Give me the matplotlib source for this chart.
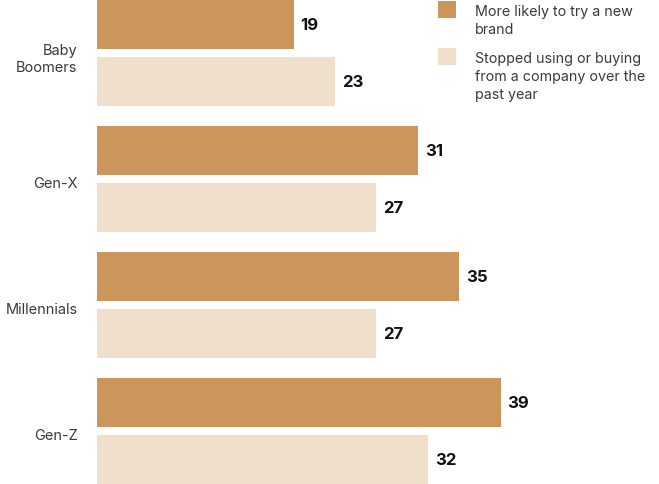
import matplotlib

matplotlib.use("Agg")
import matplotlib.pyplot as plt
import numpy as np
from matplotlib.patches import Rectangle

# data
categories = ["Baby\nBoomers", "Gen-X", "Millennials", "Gen-Z"]
try_new_brand = [19, 31, 35, 39]
stopped_using = [23, 27, 27, 32]
series_labels = [
    "More likely to try a new\nbrand",
    "Stopped using or buying\nfrom a company over the\npast year",
]

DARK = "#CC955B"
LIGHT = "#F0E0CB"
TEXT = "#3A3A3A"

plt.rcParams["font.family"] = ["Inter", "DejaVu Sans"]

W, H = 659, 485
fig = plt.figure(figsize=(W / 100, H / 100), dpi=100)
fig.patch.set_facecolor("white")

# axes spans from the bar baseline to the right edge
left_px = 97
ax = fig.add_axes([left_px / W, 0, (W - left_px) / W, 1])
px_per_unit = 10.35
ax.set_xlim(0, (W - left_px) / px_per_unit)

pitch = 126.0
center0 = 54.0 / pitch
ax.set_ylim(-center0 + H / pitch, -center0)

y = np.arange(len(categories))
offset = 0.226
height = 0.395
b1 = ax.barh(y - offset, try_new_brand, height=height, color=DARK)
b2 = ax.barh(y + offset, stopped_using, height=height, color=LIGHT)

for bars in (b1, b2):
    labels = ax.bar_label(bars, padding=5, fontsize=12, fontweight="bold", color="#111111")
    for t in labels:
        t.set_y(t.get_position()[1] + 0.012)

ax.set_yticks(y + 0.02)
ax.set_yticklabels(categories, fontsize=10.5, color=TEXT, linespacing=1.3)
ax.tick_params(axis="y", length=0, pad=14)
ax.set_xticks([])
for s in ax.spines.values():
    s.set_visible(False)

# legend drawn at fixed pixel positions, top right
legend_rows = [(2, DARK, series_labels[0]), (49, LIGHT, series_labels[1])]
for top, color, label in legend_rows:
    fig.add_artist(
        Rectangle(
            (438 / W, 1 - (top + 17) / H),
            18 / W,
            17 / H,
            transform=fig.transFigure,
            facecolor=color,
            edgecolor="none",
        )
    )
    fig.text(
        475 / W,
        1 - (top + 3) / H,
        label,
        fontsize=10.3,
        color=TEXT,
        va="top",
        ha="left",
        linespacing=1.38,
    )

fig.savefig("out.png", dpi=100)
